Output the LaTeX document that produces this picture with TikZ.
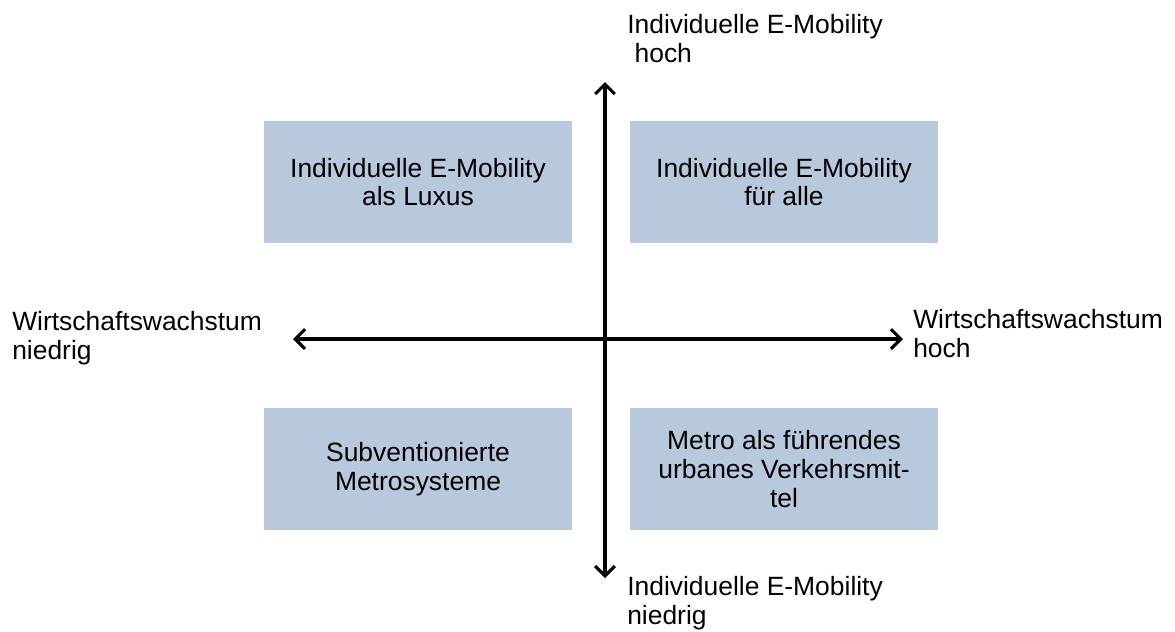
\documentclass[tikz,border=0pt]{standalone}
\usepackage{fontspec}
\setmainfont{Liberation Sans}
\usetikzlibrary{shapes,arrows.meta}
\definecolor{scenario}{RGB}{185,201,221}
\tikzstyle{box} = [fill=scenario, rectangle, align=center,
    minimum height=3.05cm, minimum width=7.7cm]
\tikzstyle{axis} = [line width=2.2pt, {Straight Barb[length=7pt,width=14pt]}-{Straight Barb[length=7pt,width=14pt]}]
\tikzstyle{label} = [anchor=north west, align=left, inner sep=0pt]

\begin{document}
\begin{tikzpicture}[font=\fontsize{18.8}{20.5}\selectfont]
\useasboundingbox (-15.125,-7.3) rectangle (14.25,8.475);

\coordinate (N) at (0,6.425);
\coordinate (S) at (0,-5.975);
\coordinate (W) at (-7.8,0);
\coordinate (E) at (7.45,0);

% scenario fields
\node[box] (luxus) at (-4.675,3.925) {Individuelle E-Mobility\\als Luxus};
\node[box] (alle) at (4.475,3.925) {Individuelle E-Mobility\\für alle};
\node[box] (subv) at (-4.675,-3.25) {Subventionierte\\Metrosysteme};
\node[box] (metro) at (4.475,-3.25) {Metro als führendes\\urbanes Verkehrsmit-\\tel};

% axes
\draw[axis] (S) -- (N);
\draw[axis] (W) -- (E);

\node[label] (mobhoch) at (0.55,8.125) {Individuelle E-Mobility\\\ hoch};
\node[label] (mobniedrig) at (0.55,-5.925) {Individuelle E-Mobility\\niedrig};
\node[label] (wwniedrig) at (-14.825,0.7) {Wirtschaftswachstum\\niedrig};
\node[label] (wwhoch) at (7.7,0.75) {Wirtschaftswachstum\\hoch};
\end{tikzpicture}
\end{document}
